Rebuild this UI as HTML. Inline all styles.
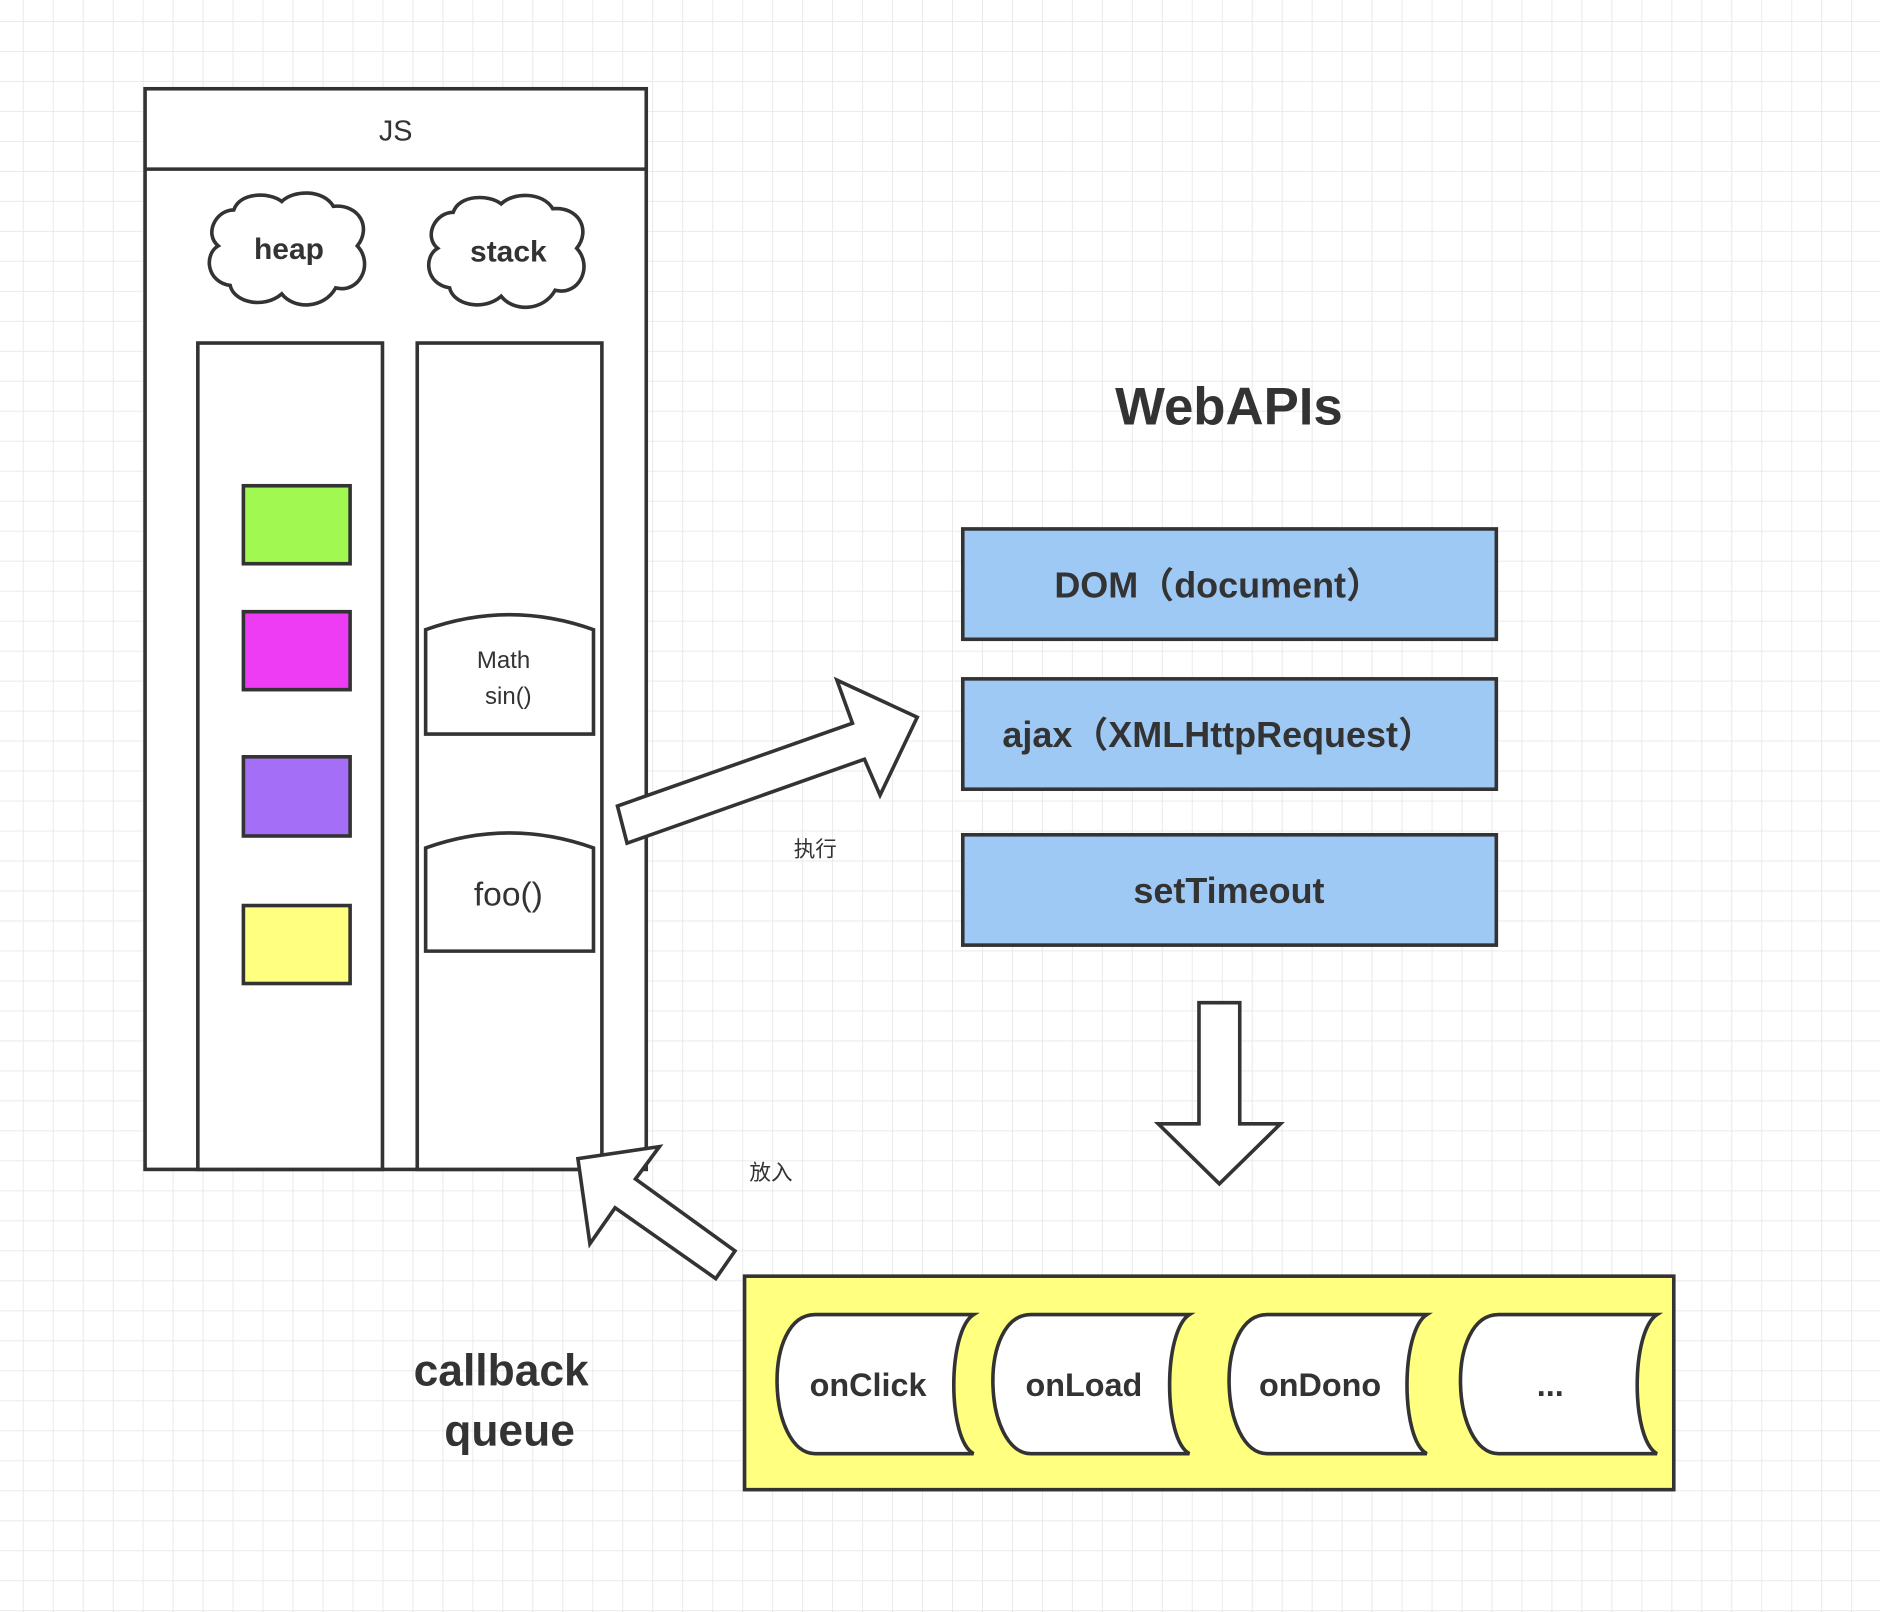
<!DOCTYPE html>
<html><head><meta charset="utf-8"><style>html,body{margin:0;padding:0;background:#fff}svg{display:block}</style></head>
<body>
<svg width="1880" height="1612" viewBox="0 0 1568 1344" preserveAspectRatio="none" xmlns="http://www.w3.org/2000/svg" font-family="Liberation Sans, 'Noto Sans CJK SC', sans-serif">
<defs>
<pattern id="g" x="19" y="17.5" width="25" height="25" patternUnits="userSpaceOnUse">
<path d="M0 0H25M0 0V25" stroke="#e8e8e8" stroke-width="1.5" fill="none"/>
</pattern>
</defs>
<rect width="1568" height="1344" fill="#fff"/>
<rect width="1568" height="1344" fill="url(#g)"/>
<g stroke="#333" stroke-width="3" fill="#fff">
<rect x="121" y="74" width="418" height="901"/>
<line x1="121" y1="141" x2="539" y2="141"/>
<rect x="165" y="286" width="154" height="689"/>
<rect x="348" y="286" width="154" height="689"/>
<path d="M195 175 C200 160 225 160 235 168 C245 158 270 158 278 172 C300 170 310 190 298 205 C312 220 300 245 280 240 C270 258 245 258 235 245 C220 258 195 252 192 238 C172 235 170 212 182 205 C170 195 180 175 195 175 Z"/>
<path d="M378 177 C383 162 408 162 418 170 C428 160 453 160 461 174 C483 172 493 192 481 207 C495 222 483 247 463 242 C453 260 428 260 418 247 C403 260 378 254 375 240 C355 237 353 214 365 207 C353 197 363 177 378 177 Z"/>
<rect x="203" y="405" width="89" height="65" fill="#a0f850"/>
<rect x="203" y="510" width="89" height="65" fill="#ee3cf5"/>
<rect x="203" y="631" width="89" height="66" fill="#a56ef7"/>
<rect x="203" y="755" width="89" height="65" fill="#ffff80"/>
<path d="M355 612 V525 Q425 500 495 525 V612 Z"/>
<path d="M355 793 V707 Q425 682 495 707 V793 Z"/>
<polygon points="523,703 515,672 711,603 698,567 765,598 734,663 721,633"/>
<rect x="803" y="441" width="445" height="92" fill="#9fc9f5"/>
<rect x="803" y="566" width="445" height="92" fill="#9fc9f5"/>
<rect x="803" y="696" width="445" height="92" fill="#9fc9f5"/>
<polygon points="1000,836 1034,836 1034,937 1068,937 1017,987 966,937 1000,937"/>
<polygon points="482,966 550,956 530,983 613,1043 597,1066 513,1007 492,1037"/>
<rect x="621" y="1064" width="775" height="178" fill="#ffff80"/>
</g>
<g stroke="#333" stroke-width="3" fill="#fff">
<path d="M680 1096 H812 C790 1110 790 1200 812 1212 H680 C640 1212 635 1096 680 1096 Z"/>
<path d="M860 1096 H992 C970 1110 970 1200 992 1212 H860 C820 1212 815 1096 860 1096 Z"/>
<path d="M1057 1096 H1190 C1168 1110 1168 1200 1190 1212 H1057 C1017 1212 1012 1096 1057 1096 Z"/>
<path d="M1250 1096 H1382 C1360 1110 1360 1200 1382 1212 H1250 C1210 1212 1205 1096 1250 1096 Z"/>
</g>
<g fill="#333" text-anchor="middle">
<text x="330" y="117" font-size="24">JS</text>
<text x="241" y="216" font-size="25" font-weight="bold">heap</text>
<text x="424" y="218" font-size="25" font-weight="bold">stack</text>
<text x="420" y="557" font-size="20">Math</text>
<text x="424" y="587" font-size="20">sin()</text>
<text x="424" y="755" font-size="28">foo()</text>
<text x="680" y="714" font-size="18">执行</text>
<text x="643" y="984" font-size="18">放入</text>
<text x="1025" y="354" font-size="44" font-weight="bold">WebAPIs</text>
<text x="1016" y="498" font-size="30" font-weight="bold">DOM（document）</text>
<text x="1016" y="623" font-size="30" font-weight="bold">ajax（XMLHttpRequest）</text>
<text x="1025" y="753" font-size="30" font-weight="bold">setTimeout</text>
<text x="418" y="1155" font-size="37" font-weight="bold">callback</text>
<text x="425" y="1205" font-size="37" font-weight="bold">queue</text>
<text x="724" y="1164" font-size="27" font-weight="bold">onClick</text>
<text x="904" y="1164" font-size="27" font-weight="bold">onLoad</text>
<text x="1101" y="1164" font-size="27" font-weight="bold">onDono</text>
<text x="1293" y="1164" font-size="27" font-weight="bold">...</text>
</g>
</svg>
</body></html>
